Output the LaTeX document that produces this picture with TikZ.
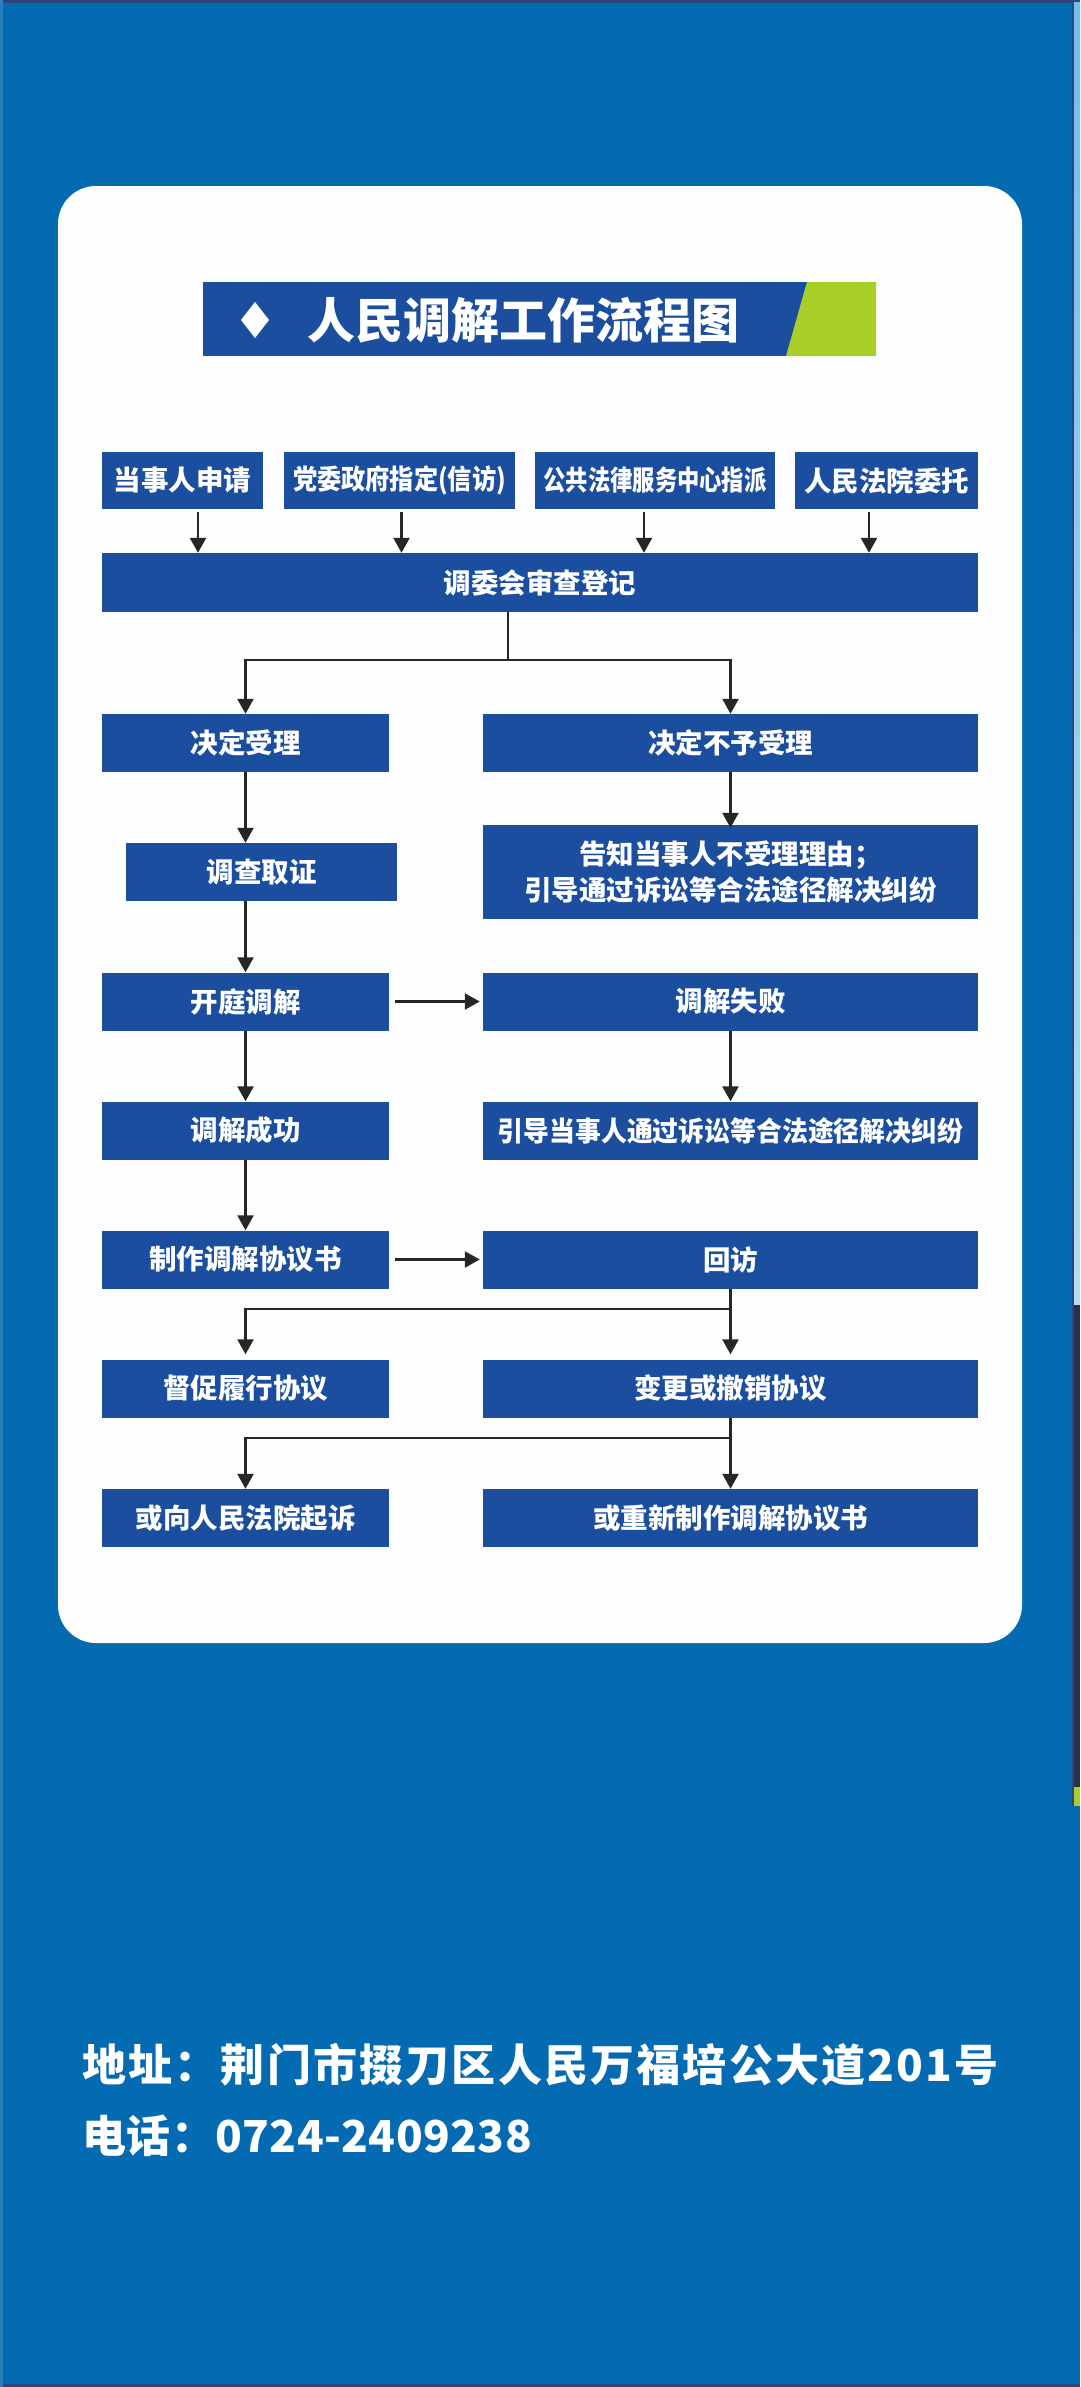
\documentclass[tikz,border=0pt]{standalone}
\usepackage{fontspec}
\newfontfamily\cjk{Noto Sans CJK SC}
\usetikzlibrary{arrows.meta}
\definecolor{bgblue}{RGB}{4,106,177}
\definecolor{boxblue}{RGB}{27,78,158}
\definecolor{limegreen}{RGB}{168,207,40}
\definecolor{cardwhite}{RGB}{253,253,253}
\definecolor{arrowgray}{RGB}{38,38,38}
\definecolor{edgedark}{RGB}{45,70,125}
\definecolor{skyblue}{RGB}{110,190,238}
\definecolor{skylight}{RGB}{175,222,246}
\definecolor{photodark}{RGB}{40,50,72}
\begin{document}
\begin{tikzpicture}[x=1pt,y=-1pt,
  flowbox/.style={fill=boxblue,text=white,inner sep=0pt,minimum height=58pt,
    font=\cjk\bfseries\fontsize{27.5}{36}\selectfont,align=center},
  arr/.style={draw=arrowgray,line width=2.4pt,-{Triangle[length=15pt,width=16pt]}},
  ln/.style={draw=arrowgray,line width=2.4pt}]
\useasboundingbox (0,0) rectangle (1080,2387);
% background and edges
\fill[bgblue] (0,0) rectangle (1080,2387);
\fill[edgedark] (0,0) rectangle (1080,3);
\fill[edgedark] (0,2384) rectangle (1080,2387);
\fill[bgblue!85!white] (0,0) rectangle (3,2387);
\shade[top color=skyblue,bottom color=skylight] (1074,3) rectangle (1080,1305);
\fill[photodark] (1074,1305) rectangle (1080,1787);
\fill[limegreen] (1074,1787) rectangle (1080,1806);
\fill[edgedark] (1072,3) rectangle (1074,1806);
% white card
\fill[cardwhite,rounded corners=38pt] (58,186) rectangle (1022,1643);
% title banner
\fill[boxblue] (203,282) rectangle (876,356);
\fill[limegreen] (807,282) -- (876,282) -- (876,356) -- (786,356) -- cycle;
\fill[white] (255,302) -- (269,320) -- (255,338) -- (241,320) -- cycle;
\node[text=white,inner sep=0pt,font=\cjk\bfseries\fontsize{48}{52}\selectfont] (title) at (523,320) {人民调解工作流程图};
% sources
\node[flowbox,minimum width=161pt,minimum height=57pt] (s1) at (182.5,480.5) {当事人申请};
\node[flowbox,minimum width=231pt,minimum height=57pt] (s2) at (399.5,480.5) {\scalebox{0.88}[1]{党委政府指定(信访)}};
\node[flowbox,minimum width=240pt,minimum height=57pt] (s3) at (655,480.5) {\scalebox{0.81}[1]{公共法律服务中心指派}};
\node[flowbox,minimum width=183pt,minimum height=57pt] (s4) at (886.5,480.5) {人民法院委托};
\node[flowbox,minimum width=876pt,minimum height=59pt] (reg) at (540,582.5) {调委会审查登记};
% left column
\node[flowbox,minimum width=287pt] (acc) at (245.5,743) {决定受理};
\node[flowbox,minimum width=271pt] (inv) at (261.5,872) {调查取证};
\node[flowbox,minimum width=287pt] (med) at (245.5,1001.5) {开庭调解};
\node[flowbox,minimum width=287pt] (suc) at (245.5,1130.5) {调解成功};
\node[flowbox,minimum width=287pt] (agr) at (245.5,1259.5) {制作调解协议书};
\node[flowbox,minimum width=287pt] (urge) at (245.5,1388.5) {督促履行协议};
\node[flowbox,minimum width=287pt] (sue) at (245.5,1518) {或向人民法院起诉};
% right column
\node[flowbox,minimum width=495pt] (rej) at (730.5,743) {决定不予受理};
\node[flowbox,minimum width=495pt,minimum height=94pt] (tell) at (730.5,872) {告知当事人不受理理由；\\引导通过诉讼等合法途径解决纠纷};
\node[flowbox,minimum width=495pt] (fail) at (730.5,1001.5) {调解失败};
\node[flowbox,minimum width=495pt] (guide) at (730.5,1130.5) {\scalebox{0.94}[1]{引导当事人通过诉讼等合法途径解决纠纷}};
\node[flowbox,minimum width=495pt] (visit) at (730.5,1259.5) {回访};
\node[flowbox,minimum width=495pt] (chg) at (730.5,1388.5) {变更或撤销协议};
\node[flowbox,minimum width=495pt] (redo) at (730.5,1518) {或重新制作调解协议书};
% arrows from sources
\draw[arr] ([xshift=15.5pt,yshift=-3pt]s1.south) -- ([xshift=15.5pt]s1.south |- reg.north);
\draw[arr] ([xshift=2pt,yshift=-3pt]s2.south) -- ([xshift=2pt]s2.south |- reg.north);
\draw[arr] ([xshift=-11pt,yshift=-3pt]s3.south) -- ([xshift=-11pt]s3.south |- reg.north);
\draw[arr] ([xshift=-17.5pt,yshift=-3pt]s4.south) -- ([xshift=-17.5pt]s4.south |- reg.north);
% branch after registration
\coordinate (j0) at (508,660);
\draw[ln] (reg.south -| j0) -- (j0);
\draw[arr] (j0) -| (acc.north);
\draw[arr] (j0) -| (rej.north);
% left chain
\draw[arr] (acc.south) -- (acc.south |- inv.north);
\draw[arr] (inv.south -| med.north) -- (med.north);
\draw[arr] (med.south) -- (suc.north);
\draw[arr] (suc.south) -- (agr.north);
% right chain
\draw[arr] (rej.south) -- ([yshift=-3pt]tell.north);
\draw[arr] (fail.south) -- (guide.north);
% horizontal
\draw[arr,shorten <=6pt,shorten >=3pt] (med.east) -- (fail.west);
\draw[arr,shorten <=6pt,shorten >=3pt] (agr.east) -- (visit.west);
% after visit
\coordinate (j1) at (730.5,1309);
\draw[arr] (visit.south) -- ([yshift=5pt]chg.north);
\draw[arr] (j1) -| ([yshift=5pt]urge.north);
% after change
\coordinate (j2) at (730.5,1438);
\draw[arr] (chg.south) -- (redo.north);
\draw[arr] (j2) -| (sue.north);
% footer
\node[anchor=west,text=white,inner sep=0pt,font=\cjk\bfseries\fontsize{44}{50}\selectfont\addfontfeatures{LetterSpace=5}] (addr) at (82,2065) {地址：荆门市掇刀区人民万福培公大道201号};
\node[anchor=west,text=white,inner sep=0pt,font=\cjk\bfseries\fontsize{44}{50}\selectfont\addfontfeatures{LetterSpace=1}] (tel) at (82,2136) {电话：0724-2409238};
\end{tikzpicture}
\end{document}
